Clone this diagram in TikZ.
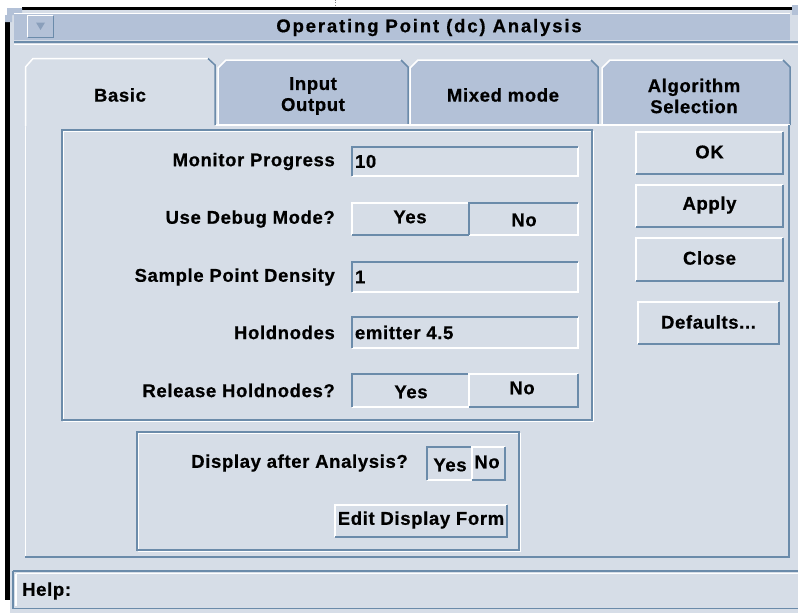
\documentclass[tikz,border=0pt]{standalone}
\usepackage{fontspec}
\setmainfont{Liberation Sans}
\newfontfamily\uifont{Liberation Sans Bold}[LetterSpace=3.5, FakeBold=0.6]
\newfontfamily\titlefont{Liberation Sans Bold}[LetterSpace=10, FakeBold=0.6]
\definecolor{bgc}{HTML}{D6DDE7}
\definecolor{tabc}{HTML}{B3C1D7}
\definecolor{dk}{HTML}{6B8BAA}
\definecolor{tri}{HTML}{8A9FBB}
\newcommand\bevraise[1]{%
  \draw[white,line width=2.4pt] (#1.south west) -- (#1.north west) -- (#1.north east);
  \draw[dk,line width=2.4pt] (#1.north east) -- (#1.south east) -- (#1.south west);}
\newcommand\bevsink[1]{%
  \draw[white,line width=2.4pt] (#1.north east) -- (#1.south east) -- (#1.south west);
  \draw[dk,line width=2.4pt] (#1.south west) -- (#1.north west) -- (#1.north east);}
\tikzset{
  ui/.style={font={\uifont\fontsize{18.5}{21}\selectfont}, inner sep=0pt, text=black},
  lbl/.style={ui, anchor=east},
  val/.style={ui, anchor=west},
  boxn/.style={fill=bgc, inner sep=0pt, draw=none},
  tabtxt/.style={ui, align=center},
}
\begin{document}
\begin{tikzpicture}[x=1pt,y=-1pt]
\useasboundingbox (0,0) rectangle (798,613);
\fill[white] (0,0) rectangle (798,613);
% window background
\fill[bgc] (10,10) rectangle (798,613);
% black frame parts
\fill[black] (22,7) rectangle (792,10);
\fill[black] (5,22) rectangle (10,600);
\fill[tabc] (7,8) -- (22,8) -- (22,15) -- (12,15) -- (12,22) -- (5,22) -- (5,15) -- (7,15) -- cycle;
\fill[tabc] (792,5) rectangle (798,15);
\draw[gray,dotted] (335,0) -- (335,6);
% title bar
\fill[tabc] (14,13) rectangle (790,40);
\draw[white,line width=1pt] (14,13.5) -- (790,13.5);
\draw[dk,line width=1.5pt] (14,42) -- (798,42);
\draw[white,line width=1pt] (14,44.5) -- (798,44.5);
\node[fill=tabc, minimum width=25pt, minimum height=21pt, inner sep=0pt] (menu) at (40.5,26.5) {};
\draw[white,line width=1.2pt] (menu.south west) -- (menu.north west) -- (menu.north east);
\draw[dk,line width=1.2pt] (menu.north east) -- (menu.south east) -- (menu.south west);
\fill[tri] (36,22.5) -- (45,22.5) -- (40.5,30) -- cycle;
\node[font={\titlefont\fontsize{18.5}{21}\selectfont}, inner sep=0pt] (title) at (429,27.5) {Operating Point (dc) Analysis};
% unselected tabs
\foreach \a/\b in {218/408, 410/598, 602/790}{
  \fill[tabc] (\a,125) -- (\a,68) -- (\a+8,60) -- (\b-7,60) -- (\b,67) -- (\b,125) -- cycle;
  \draw[white,line width=1.5pt] (\a,125) -- (\a,68) -- (\a+8,60) -- (\b-7,60);
  \draw[dk,line width=1.5pt] (\b-7,60) -- (\b,67) -- (\b,125);
}
% panel border
\draw[white,line width=1.5pt] (214,125) -- (790,125);
\draw[white,line width=1.5pt] (25.5,67) -- (25.5,556);
\draw[dk,line width=1.5pt] (25,557) -- (789,557) -- (789,125);
% selected tab
\fill[bgc] (25,126) -- (25,67) -- (33,58) -- (208,58) -- (215,65) -- (215,126) -- cycle;
\draw[white,line width=1.5pt] (25.5,126) -- (25.5,67) -- (33,58.5) -- (208,58.5);
\draw[dk,line width=1.5pt] (208,58.5) -- (215,65) -- (215,125);
\node[tabtxt] (tbasic) at (120,95) {Basic};
\node[tabtxt] (tio) at (313,96) {Input\\Output};
\node[tabtxt] (tmix) at (503,95) {Mixed mode};
\node[tabtxt] (talg) at (694,96) {Algorithm\\Selection};
% group box 1
\draw[white,line width=1.2pt] (63.5,131.5) rectangle (593.5,421.5);
\draw[dk,line width=1.2pt] (62,130) rectangle (592,420);
% group box 2
\draw[white,line width=1.2pt] (138.5,433.5) rectangle (520.5,551.5);
\draw[dk,line width=1.2pt] (137,432) rectangle (519,550);
% fields
\node[boxn, minimum width=226pt, minimum height=29pt] (fmon) at (465,161.5) {};
\bevsink{fmon}
\node[val] (vmon) at ([xshift=3pt]fmon.west) {10};
\node[lbl] (lmon) at (335,161.5) {Monitor Progress};

\node[boxn, minimum width=117pt, minimum height=32pt] (dbyes) at (410.5,219) {};
\bevraise{dbyes}
\node[boxn, minimum width=109pt, minimum height=32pt] (dbno) at (523.5,219) {};
\bevsink{dbno}
\node[ui] (tdbyes) at (410,217) {Yes};
\node[ui] (tdbno) at (524,220) {No};
\node[lbl] (ldb) at (335,219) {Use Debug Mode?};

\node[boxn, minimum width=226pt, minimum height=30pt] (fsp) at (465,277) {};
\bevsink{fsp}
\node[val] (vsp) at ([xshift=3pt]fsp.west) {1};
\node[lbl] (lsp) at (335,277) {Sample Point Density};

\node[boxn, minimum width=226pt, minimum height=31pt] (fhn) at (465,332.5) {};
\bevsink{fhn}
\node[val] (vhn) at ([xshift=3pt]fhn.west) {emitter 4.5};
\node[lbl] (lhn) at (335,332.5) {Holdnodes};

\node[boxn, minimum width=117pt, minimum height=33pt] (rhyes) at (410.5,390.5) {};
\bevsink{rhyes}
\node[boxn, minimum width=109pt, minimum height=33pt] (rhno) at (523.5,390.5) {};
\bevraise{rhno}
\node[ui] (trhyes) at (411,392) {Yes};
\node[ui] (trhno) at (522,388) {No};
\node[lbl] (lrh) at (335,390.5) {Release Holdnodes?};
% display group
\node[boxn, minimum width=45pt, minimum height=33pt] (dayes) at (449.5,463.5) {};
\bevsink{dayes}
\node[boxn, minimum width=33pt, minimum height=33pt] (dano) at (488.5,463.5) {};
\bevraise{dano}
\node[ui] (tdayes) at (450,465) {Yes};
\node[ui] (tdano) at (487,462) {No};
\node[lbl] (lda) at (408,463) {Display after Analysis?};
\node[boxn, minimum width=172pt, minimum height=32pt] (edf) at (421,521) {};
\bevraise{edf}
\node[ui] (tedf) at (421,520) {Edit Display Form};
% right buttons
\node[boxn, minimum width=147pt, minimum height=42pt] (ok) at (709.5,153) {};
\bevraise{ok}
\node[ui] (tok) at (709.5,152) {OK};
\node[boxn, minimum width=147pt, minimum height=42pt] (apply) at (709.5,206) {};
\bevraise{apply}
\node[ui] (tapply) at (709.5,205) {Apply};
\node[boxn, minimum width=147pt, minimum height=43pt] (close) at (709.5,259.5) {};
\bevraise{close}
\node[ui] (tclose) at (709.5,258) {Close};
\node[boxn, minimum width=141pt, minimum height=42pt] (defs) at (708.5,323) {};
\bevraise{defs}
\node[ui] (tdefs) at (708.5,322) {Defaults...};
% help bar
\draw[dk,line width=1.5pt] (13,571) -- (798,571);
\draw[white,line width=1.2pt] (16,573.5) -- (798,573.5);
\draw[dk,line width=1.5pt] (13,571) -- (13,608.5) -- (798,608.5);
\draw[white,line width=1.2pt] (16,573.5) -- (16,606);
\node[val] (thelp) at (22,591) {Help:};
\end{tikzpicture}
\end{document}
